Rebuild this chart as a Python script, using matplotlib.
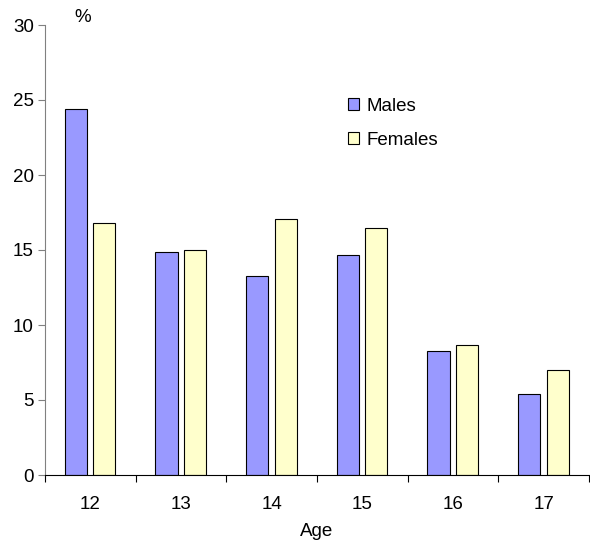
import numpy as np
import matplotlib
matplotlib.use("Agg")
import matplotlib.pyplot as plt
from matplotlib.patches import Patch

plt.rcParams['font.family'] = ['Liberation Sans', 'DejaVu Sans']

ages = ['12', '13', '14', '15', '16', '17']
males = [24.4, 14.9, 13.3, 14.7, 8.3, 5.4]
females = [16.8, 15.0, 17.1, 16.5, 8.7, 7.0]

male_color = '#9999FF'
female_color = '#FFFFCC'
fs = 13.5

fig = plt.figure(figsize=(5.9, 5.42), dpi=100)
ax = fig.add_axes([45 / 590, 67 / 542, 544 / 590, 450 / 542])

x = np.arange(len(ages))
width = 0.245
ax.bar(x - 0.16, males, width, color=male_color, edgecolor='black', linewidth=0.8, label='Males')
ax.bar(x + 0.155, females, width, color=female_color, edgecolor='black', linewidth=0.8, label='Females')

ax.set_xlim(-0.5, len(ages) - 0.5)
ax.set_ylim(0, 30)
ax.set_yticks(range(0, 31, 5))
ax.tick_params(axis='y', direction='out', length=5, width=0.8, color='#808080', labelsize=fs, pad=3)

# labels centred on categories, ticks on category boundaries
ax.set_xticks(x)
ax.set_xticklabels(ages)
ax.set_xticks(np.arange(-0.5, len(ages), 1.0), minor=True)
ax.tick_params(axis='x', which='major', length=0, labelsize=fs, pad=15)
ax.tick_params(axis='x', which='minor', direction='out', length=5, width=0.8, color='black')

for side in ['top', 'right']:
    ax.spines[side].set_visible(False)
ax.spines['left'].set_color('#808080')
ax.spines['bottom'].set_color('black')

fig.text(317 / 590, 1 - 531 / 542, 'Age', fontsize=fs, ha='center', va='center')
fig.text(83 / 590, 1 - 18 / 542, '%', fontsize=fs, ha='center', va='center')

handles = [Patch(facecolor=male_color, edgecolor='black', linewidth=0.8, label='Males'),
           Patch(facecolor=female_color, edgecolor='black', linewidth=0.8, label='Females')]
fig.legend(handles=handles, frameon=False, fontsize=fs, loc='upper left',
           bbox_to_anchor=(348 / 590, 1 - 98 / 542), borderpad=0,
           handlelength=0.6, handleheight=0.6, handletextpad=0.4,
           labelspacing=0.9, borderaxespad=0)

fig.savefig('out.png', dpi=100)
